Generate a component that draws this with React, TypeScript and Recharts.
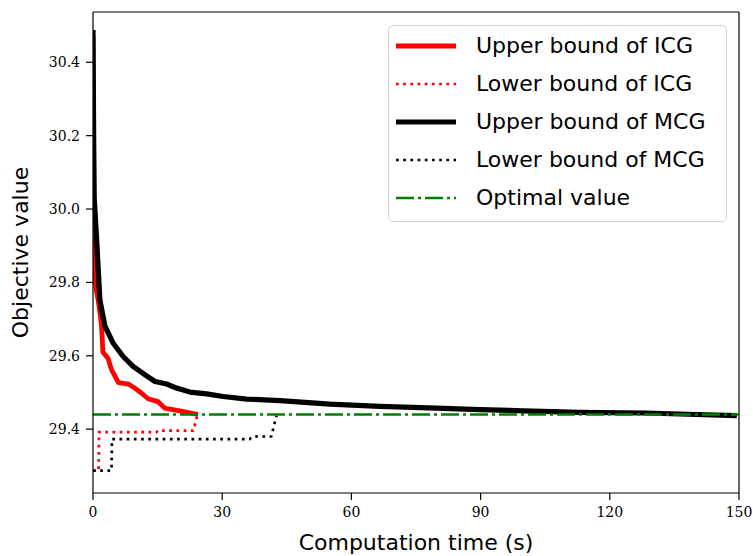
import React from 'react';
import { LineChart, Line, XAxis, YAxis, Legend, ReferenceLine, Label } from 'recharts';

// ---- data ----
const xTicks = [0, 30, 60, 90, 120, 150];
const yTicks = [29.4, 29.6, 29.8, 30.0, 30.2, 30.4];
const yDomain = [29.226, 30.537];

const upperICG = [
  { t: 0, v: 30.47 }, { t: 0.1, v: 30.1 }, { t: 0.23, v: 29.85 }, { t: 0.6, v: 29.79 },
  { t: 1.2, v: 29.752 }, { t: 1.7, v: 29.71 }, { t: 2.0, v: 29.68 }, { t: 2.3, v: 29.61 },
  { t: 3.5, v: 29.593 }, { t: 4.3, v: 29.562 }, { t: 5.9, v: 29.527 }, { t: 8.2, v: 29.523 },
  { t: 9.7, v: 29.512 }, { t: 11.3, v: 29.498 }, { t: 12.8, v: 29.483 }, { t: 15.1, v: 29.475 },
  { t: 16.7, v: 29.457 }, { t: 18.6, v: 29.453 }, { t: 21.0, v: 29.448 }, { t: 24.4, v: 29.44 },
];
const lowerICG = [
  { t: 0, v: 29.287 }, { t: 1.3, v: 29.287 }, { t: 1.4, v: 29.392 }, { t: 14.8, v: 29.392 },
  { t: 15.0, v: 29.396 }, { t: 23.3, v: 29.396 }, { t: 24.2, v: 29.437 },
];
const upperMCG = [
  { t: 0, v: 30.488 }, { t: 0.15, v: 30.2 }, { t: 0.28, v: 30.03 }, { t: 0.85, v: 29.916 },
  { t: 1.6, v: 29.752 }, { t: 2.8, v: 29.68 }, { t: 4.7, v: 29.634 }, { t: 7.0, v: 29.598 },
  { t: 9.3, v: 29.571 }, { t: 12.1, v: 29.548 }, { t: 14.4, v: 29.53 }, { t: 17.1, v: 29.523 },
  { t: 19.4, v: 29.512 }, { t: 22.5, v: 29.501 }, { t: 26.4, v: 29.496 }, { t: 30.2, v: 29.489 },
  { t: 35.7, v: 29.482 }, { t: 43.4, v: 29.478 }, { t: 55, v: 29.468 }, { t: 66.6, v: 29.462 },
  { t: 78, v: 29.458 }, { t: 89.8, v: 29.453 }, { t: 100, v: 29.45 }, { t: 113, v: 29.446 },
  { t: 128.4, v: 29.444 }, { t: 140, v: 29.44 }, { t: 149.5, v: 29.437 },
];
const lowerMCG = [
  { t: 0, v: 29.287 }, { t: 4.3, v: 29.287 }, { t: 4.4, v: 29.373 }, { t: 36.4, v: 29.373 },
  { t: 37.0, v: 29.38 }, { t: 41.4, v: 29.38 }, { t: 42.6, v: 29.437 },
];
const optimal = [{ t: 0, v: 29.44 }, { t: 150, v: 29.44 }];

const legendLabels = [
  'Upper bound of ICG',
  'Lower bound of ICG',
  'Upper bound of MCG',
  'Lower bound of MCG',
  'Optimal value',
];

// ---- styles ----
const seriesStyles = [
  { color: '#ff0000', width: 4.8, dash: undefined as string | undefined },
  { color: '#ff0000', width: 2.7, dash: '2.7 4.5' },
  { color: '#000000', width: 5.2, dash: undefined },
  { color: '#000000', width: 2.7, dash: '2.7 4.5' },
  { color: '#008000', width: 2.5, dash: '18 4 3 4' },
];

const sansFont = '"DejaVu Sans", sans-serif';
const serifFont = '"DejaVu Serif", serif';

const LegendBox = () => (
  <div
    style={{
      width: 339,
      height: 197,
      boxSizing: 'border-box',
      border: '1px solid #d0d0d0',
      borderRadius: 5,
      background: 'rgba(255,255,255,0.85)',
      paddingTop: 1,
    }}
  >
    {legendLabels.map((lab, i) => {
      const s = seriesStyles[i];
      return (
        <div key={lab} style={{ display: 'flex', alignItems: 'center', height: 38 }}>
          <svg width={87} height={38} style={{ flex: 'none' }}>
            <line
              x1={7}
              x2={67}
              y1={19}
              y2={19}
              stroke={s.color}
              strokeWidth={s.width}
              strokeDasharray={s.dash}
            />
          </svg>
          <span style={{ fontFamily: sansFont, fontSize: 22, color: '#000', lineHeight: '38px', whiteSpace: 'nowrap' }}>
            {lab}
          </span>
        </div>
      );
    })}
  </div>
);

export default function App() {
  const seriesData = [upperICG, lowerICG, upperMCG, lowerMCG, optimal];
  return (
    <div style={{ position: 'absolute', left: 0, top: 0, width: 753, height: 556, background: '#fff' }}>
      <LineChart width={753} height={556} margin={{ top: 12, right: 14, bottom: 0, left: 0 }}>
        <XAxis
          dataKey="t"
          type="number"
          domain={[0, 150]}
          ticks={xTicks}
          allowDataOverflow
          height={63}
          tickSize={7}
          tickMargin={7}
          stroke="#000"
          strokeWidth={1.2}
          tick={{ fill: '#000', fontFamily: serifFont, fontSize: 14 }}
          tickLine={{ stroke: '#000', strokeWidth: 1.2 }}
        >
          <Label
            content={({ viewBox }: any) => (
              <text
                x={viewBox.x + viewBox.width / 2}
                y={550}
                textAnchor="middle"
                fontFamily={sansFont}
                fontSize={22}
                fill="#000"
              >
                Computation time (s)
              </text>
            )}
          />
        </XAxis>
        <YAxis
          type="number"
          domain={yDomain}
          ticks={yTicks}
          allowDataOverflow
          width={93}
          tickSize={7}
          tickMargin={6}
          stroke="#000"
          strokeWidth={1.2}
          tickFormatter={(v: number) => v.toFixed(1)}
          tick={{ fill: '#000', fontFamily: serifFont, fontSize: 14 }}
          tickLine={{ stroke: '#000', strokeWidth: 1.2 }}
        >
          <Label
            content={({ viewBox }: any) => {
              const cx = 28;
              const cy = viewBox.y + viewBox.height / 2;
              return (
                <text
                  x={cx}
                  y={cy}
                  transform={`rotate(-90, ${cx}, ${cy})`}
                  textAnchor="middle"
                  fontFamily={sansFont}
                  fontSize={22}
                  fill="#000"
                >
                  Objective value
                </text>
              );
            }}
          />
        </YAxis>
        <ReferenceLine x={150} stroke="#000" strokeWidth={1.2} />
        <ReferenceLine y={yDomain[1]} stroke="#000" strokeWidth={1.2} />
        {seriesData.map((d, i) => (
          <Line
            key={legendLabels[i]}
            data={d}
            dataKey="v"
            name={legendLabels[i]}
            type="linear"
            stroke={seriesStyles[i].color}
            strokeWidth={seriesStyles[i].width}
            strokeDasharray={seriesStyles[i].dash}
            dot={false}
            activeDot={false}
            isAnimationActive={false}
            strokeLinejoin="round"
          />
        ))}
        <Legend
          layout="horizontal"
          verticalAlign="middle"
          align="center"
          content={() => <LegendBox />}
          wrapperStyle={{ left: 388, top: 25, width: 339, height: 197 }}
        />
      </LineChart>
    </div>
  );
}
